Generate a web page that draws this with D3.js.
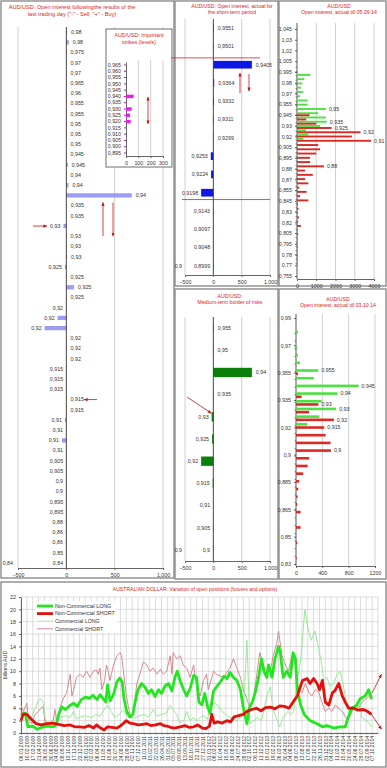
<!DOCTYPE html>
<html>
<head>
<meta charset="utf-8">
<script src="https://cdn.jsdelivr.net/npm/d3@7"></script>
<style>
  body { margin: 0; background: #fff; }
  svg text { font-family: "Liberation Sans", Arial, sans-serif; }
</style>
</head>
<body>
<div id="chart"></div>
<script>
// ---------- data ----------
// left panel: open interest after the last trading day
var leftLabels = ["0,98","0,98","0,975","0,97","0,97","0,965","0,96","0,955","0,955","0,95","0,95","0,95",
  "0,945","0,945","0,94","0,94","0,94","0,935","0,935","0,93","0,93","0,93","0,93","0,925","0,925","0,925",
  "0,925","0,92","0,92","0,92","0,92","0,92","0,92","0,915","0,915","0,915","0,915","0,915","0,91","0,91",
  "0,91","0,91","0,905","0,905","0,9","0,9","0,895","0,895","0,88","0,86","0,86","0,85","0,84"];
var leftValues = [8, 25, 3, 3, 3, 2, 4, 2, 3, 2, 3, 2,
  2, 15, 2, 22, 676, 4, 3, -30, 3, 3, 8, -15, 3, 80,
  3, -3, -90, -225, 2, 3, 3, -2, -2, -2, 3, 2, -15, -3,
  -45, -3, -2, -2, -3, -3, -2, -2, -5, -5, -5, -2, -2];

// inset: important strikes
var strikeLabels = ["0,965","0,960","0,955","0,950","0,945","0,940","0,935","0,930","0,925","0,920",
  "0,915","0,910","0,905","0,900","0,895"];
var strikeValues = [0, 0, 0, 0, 0, 62, 0, 46, 32, 38, 0, 0, 0, 0, 0];

// middle top: short-term period
var shortLabels = ["0,9551","0,9501","0,9405","0,9364","0,9332","0,9311","0,9299","0,9253","0,9224",
  "0,9198","0,9143","0,9097","0,9048","0,8999"];
var shortValues = [8, 6, 680, 15, 12, 6, 6, -45, -40, -215, -5, -3, -3, -4];

// middle bottom: medium-term border of risks
var riskLabels = ["0,955","0,95","0,94","0,935","0,93","0,925","0,92","0,915","0,91","0,905","0,9"];
var riskValues = [8, 5, 680, 5, -30, -22, -215, -12, -3, -3, -5];

// right top: open interest till 05.09.14
var oiSepTicks = ["1,045","1,03","1,02","1,005","0,995","0,98","0,97","0,955","0,945","0,93","0,92","0,905",
  "0,895","0,88","0,87","0,855","0,845","0,83","0,82","0,805","0,795","0,78","0,77","0,755"];
var oiSepPrices = [1.0, 0.995, 0.99, 0.985, 0.98, 0.975, 0.97, 0.965, 0.96, 0.955, 0.95, 0.945, 0.94, 0.935,
  0.93, 0.925, 0.92, 0.915, 0.91, 0.905, 0.9, 0.895, 0.89, 0.885, 0.88, 0.875, 0.87, 0.865, 0.86, 0.855,
  0.85, 0.845, 0.84, 0.835, 0.83, 0.825, 0.82, 0.815, 0.81, 0.805, 0.8, 0.795, 0.79, 0.785, 0.78, 0.775, 0.77];
var oiSepCalls = [50, 30, 700, 380, 280, 210, 330, 160, 550, 550, 1500, 1100, 1500, 1550,
  1200, 480, 590, 330, 0, 0, 0, 0, 0, 0, 0, 0, 0, 0, 0, 0,
  0, 0, 0, 0, 0, 0, 0, 0, 0, 0, 0, 0, 0, 0, 0, 0, 0];
var oiSepPuts = [0, 0, 0, 0, 0, 0, 0, 0, 0, 0, 0, 650, 480, 1000,
  1800, 3300, 2850, 3850, 1100, 1200, 1000, 680, 680, 1400, 420, 820, 420, 590, 120, 500,
  160, 590, 50, 80, 40, 100, 60, 200, 40, 60, 30, 20, 40, 20, 30, 20, 10];
var oiSepTags = [["call", 0.95, "0,95"], ["call", 0.935, "0,935"], ["put", 0.93, "0,925"],
  ["put", 0.925, "0,92"], ["put", 0.915, "0,91"], ["put", 0.885, "0,88"]];

// right bottom: open interest till 03.10.14
var oiOctTicks = ["0,99","0,97","0,955","0,935","0,92","0,9","0,885","0,865","0,85","0,83"];
var oiOctPrices = [0.98, 0.975, 0.97, 0.965, 0.96, 0.955, 0.95, 0.945, 0.94, 0.935, 0.93, 0.925, 0.92,
  0.915, 0.91, 0.905, 0.9, 0.895, 0.89, 0.885, 0.88, 0.875, 0.87, 0.865, 0.86, 0.855, 0.85, 0.845, 0.84, 0.835];
var oiOctCalls = [30, 0, 20, 30, 60, 340, 270, 950, 630, 390, 610, 355, 170,
  0, 0, 0, 0, 0, 0, 0, 0, 0, 0, 0, 0, 0, 0, 0, 0, 0];
var oiOctPuts = [0, 0, 0, 0, 0, 30, 0, 0, 85, 340, 200, 575, 430,
  450, 525, 530, 200, 177, 110, 50, 35, 25, 20, 70, 0, 70, 0, 20, 0, 10];
var oiOctTags = [["call", 0.955, "0,955"], ["call", 0.945, "0,945"], ["call", 0.94, "0,94"],
  ["put", 0.935, "0,93"], ["call", 0.93, "0,93"], ["put", 0.925, "0,92"], ["put", 0.92, "0,915"],
  ["put", 0.905, "0,9"]];

// bottom: COT positions, billions AUD; x is weeks from the first date label
var dateLabels = ["06.01.2009","10.02.2009","17.03.2009","21.04.2009","26.05.2009","30.06.2009",
  "04.08.2009","08.09.2009","13.10.2009","17.11.2009","22.12.2009","26.01.2010","02.03.2010",
  "06.04.2010","11.05.2010","15.06.2010","20.07.2010","24.08.2010","28.09.2010","02.11.2010",
  "07.12.2010","11.01.2011","15.02.2011","22.03.2011","26.04.2011","31.05.2011","05.07.2011",
  "09.08.2011","13.09.2011","18.10.2011","22.11.2011","27.12.2011","31.01.2012","06.03.2012",
  "10.04.2012","15.05.2012","19.06.2012","24.07.2012","28.08.2012","02.10.2012","06.11.2012",
  "11.12.2012","15.01.2013","19.02.2013","26.03.2013","30.04.2013","04.06.2013","09.07.2013",
  "13.08.2013","17.09.2013","22.10.2013","26.11.2013","31.12.2013","04.02.2014","11.03.2014",
  "15.04.2014","20.05.2014","24.06.2014","29.07.2014","02.09.2014","07.10.2014"];
var yTicks = [0, 2, 4, 6, 8, 10, 12, 14, 16, 18, 20, 22];

var ncLong = [[0,2.8],[3.5,3.2],[6,1.0],[10,1.1],[14,0.6],[17.5,0.9],[22.5,1.1],[27.5,1.0],[30,1.3],
  [32.5,3.2],[35,4.2],[38,3.8],[42,4.5],[45,4.8],[48,4.3],[51.5,5.4],[55,5.8],[58.5,5.6],[61.5,6.1],
  [65,5.4],[67.5,6.2],[70,5.6],[72.5,5.0],[74,7.8],[76,5.2],[79,6.2],[82,8.3],[84.5,8.9],[86.5,8.2],
  [88,5.5],[90.5,3.4],[93,2.6],[95.5,3.0],[97.5,5.0],[100,7.0],[103,8.0],[106,7.4],[109,6.4],
  [111.5,7.0],[114.5,5.9],[117.5,7.0],[120,6.4],[123,7.6],[126,8.0],[129,6.8],[131.5,9.0],
  [133.5,10.0],[136,8.4],[139,7.0],[141.5,6.0],[144.5,7.2],[147.5,9.3],[150,9.0],[152,5.0],
  [154.5,4.6],[157,6.4],[159.5,4.2],[161.5,3.2],[164.5,6.8],[167.5,7.6],[170.5,8.3],[173.5,9.2],
  [176,8.8],[178.5,9.8],[181.5,9.0],[184.5,8.5],[187.5,7.0],[190,4.0],[193,1.5],[195,4.0],
  [198,5.2],[200,6.5],[203,9.0],[205.5,12.0],[207.5,10.0],[210,9.0],[211.5,11.0],[214.5,9.0],
  [217,12.0],[220,14.0],[221.5,13.0],[224,9.0],[227,10.0],[230,9.0],[232.5,13.0],[234.5,12.0],
  [236,7.0],[239,4.5],[242,3.0],[247,2.0],[253,1.5],[257.5,1.0],[261.5,1.2],[267,0.8],[272.5,1.0],
  [277,1.0],[279.5,2.5],[282.5,4.0],[287,4.5],[289.5,5.5],[294,6.0],[297,7.0],[299.5,5.5]];
var ncShort = [[0,2.0],[2,3.1],[5,3.0],[7.5,2.5],[10,2.0],[13,1.5],[17,1.3],[22,1.5],[27,1.6],[32,1.4],
  [37,1.2],[42,1.3],[46,1.0],[50,1.0],[54,0.9],[58,1.2],[62,0.8],[64.5,1.3],[68,0.8],[71,0.5],
  [74,1.0],[78,0.9],[82,0.8],[86,1.3],[90,2.0],[93,1.6],[96,1.5],[100,1.3],[104,1.4],[107.5,1.5],
  [111,1.2],[115,1.3],[119,1.5],[122,1.2],[125,1.1],[128,0.9],[131,0.8],[136,1.0],[140,1.2],
  [144,0.9],[147.5,1.0],[151,1.3],[155,0.8],[158,0.7],[161,1.1],[163,3.0],[165,1.6],[168,1.8],
  [172,1.6],[176,2.0],[179,1.8],[182,2.6],[186,2.8],[190,3.0],[193,3.5],[197,3.8],[201,4.0],
  [205,3.6],[209,4.1],[213,4.2],[217,3.9],[221,4.4],[225,4.3],[229,4.0],[232.5,5.0],[236,6.0],
  [240.5,8.5],[244.5,8.8],[247,8.0],[250,8.8],[253,8.0],[255,7.0],[257.5,8.5],[260,5.0],[263,4.5],
  [266,6.5],[268,6.8],[271.5,8.0],[274.5,6.0],[277,5.0],[280,4.0],[284,4.0],[288,3.7],[292.5,3.8],
  [296,3.5],[299.5,3.0]];
var cLong = [[0,3.0],[2,3.5],[5,3.2],[7.5,2.0],[10,3.0],[13,4.5],[15,5.3],[17,5.5],[19,5.0],[20.5,2.5],
  [22,1.6],[26,1.8],[30,2.5],[34,2.6],[38,2.8],[42,2.5],[45,3.5],[47,2.3],[51,2.6],[55,2.8],[60,2.5],
  [64,3.0],[67.5,2.7],[70,3.5],[74,4.5],[77,3.5],[80,2.5],[84,3.0],[87.5,3.8],[90,3.0],[93,2.5],
  [97,2.4],[101,2.8],[105,3.0],[109,2.6],[113,3.8],[116,2.7],[120,3.0],[124,3.2],[127.5,4.5],
  [130,3.8],[133,3.0],[136,1.6],[139,2.0],[141.5,3.5],[144.5,2.0],[147.5,2.5],[150,2.0],[153,2.5],
  [156,2.8],[159,2.2],[161.5,3.5],[164.5,5.0],[168,4.5],[172,3.5],[175,3.0],[178.5,2.5],[184.5,2.0],
  [187.5,2.5],[190,3.5],[193,15.0],[195.5,1.5],[199,2.0],[202,2.5],[205.5,2.0],[210,6.0],[213,7.5],
  [215,4.0],[218,2.5],[221,1.0],[224,2.5],[228,3.5],[231,3.0],[233,3.5],[235.5,8.0],[239,12.0],
  [242.5,20.0],[245,17.0],[248,15.0],[251,16.5],[254,14.0],[257,11.0],[258.5,8.5],[261.5,9.0],
  [264,7.5],[267,8.0],[270,9.5],[272.5,10.0],[275.5,7.5],[278.5,4.5],[281,3.0],[284,4.0],[287,5.0],
  [290,5.0],[291,2.5],[295.5,2.0],[298,1.5],[300,1.0]];
var cShort = [[0,4.5],[2,3.5],[5,4.8],[6.5,2.0],[9,1.5],[12,3.0],[15,3.5],[17,4.0],[19,4.3],[20.5,1.8],
  [24,1.5],[27,1.5],[29,3.8],[30.5,2.0],[32,2.5],[33,4.0],[36,5.5],[39,6.5],[42,9.5],[43.5,6.0],
  [45,7.0],[47.5,9.0],[50.5,9.5],[53,9.0],[56,10.0],[59,9.0],[62,10.0],[64.5,10.2],[66,9.5],
  [67.5,10.5],[69,7.0],[71.5,8.5],[73,11.0],[74.5,10.0],[76,8.5],[79,11.0],[82,12.5],[84.5,13.0],
  [86,12.5],[87.5,10.0],[90,6.0],[93,3.0],[94.5,2.5],[96,3.5],[99,8.0],[101.5,9.5],[104.5,11.5],
  [107.5,11.0],[110,10.0],[113,10.5],[116,9.5],[119,10.3],[121.5,9.5],[124.5,10.0],[127.5,12.5],
  [129,9.5],[130,13.0],[133,12.0],[136,12.5],[138.5,11.0],[141.5,10.5],[144.5,9.0],[147.5,11.0],
  [150,7.5],[153,6.0],[156,8.5],[158.5,9.5],[160,7.0],[164.5,10.0],[167,9.5],[173,9.0],[178.5,10.5],
  [181.5,12.0],[184.5,10.5],[187.5,9.0],[190,7.0],[193,5.5],[195.5,4.0],[198.5,5.5],[201.5,9.5],
  [204,13.0],[207,11.0],[210,10.0],[213,10.0],[215.5,12.5],[218.5,14.5],[220,16.5],[223,12.5],
  [226,11.0],[228.5,10.0],[231.5,12.5],[234.5,11.0],[237,7.0],[240,6.5],[243,8.0],[246,6.5],
  [248.5,6.0],[251.5,7.0],[254.5,6.5],[257,5.0],[260,3.5],[263,4.0],[265.5,3.5],[268.5,4.5],
  [271.5,4.0],[274.5,3.5],[277.5,2.5],[280,2.3],[283,3.5],[286,4.5],[288.5,4.0],[291.5,5.0],
  [294.5,5.5],[297,6.0],[300,6.5]];

var seriesNames = ["Non-Commercial LONG", "Non-Commercial SHORT", "Commercial LONG", "Commercial SHORT"];

// ---------- page ----------
var svg = d3.select("#chart").append("svg")
  .attr("width", 387)
  .attr("height", 768);

var RED = "#e0201c";
var FONT = 5.3;

// arrow head used by the red annotations
svg.append("defs").append("marker")
  .attr("id", "ah")
  .attr("viewBox", "0 0 10 10")
  .attr("refX", 9)
  .attr("refY", 5)
  .attr("markerWidth", 5)
  .attr("markerHeight", 5)
  .attr("orient", "auto")
  .append("path")
  .attr("d", "M0,1L10,5L0,9z")
  .attr("fill", "#c0161a");

// panel frames
var frames = [[1, 1, 173, 577], [175, 1, 103, 285], [175, 289, 103, 290],
  [279, 1, 107, 285], [279, 289, 107, 290], [1, 582, 385, 185]];
svg.selectAll(".frame")
  .data(frames)
  .enter()
  .append("rect")
  .attr("class", "frame")
  .attr("x", d => d[0])
  .attr("y", d => d[1])
  .attr("width", d => d[2])
  .attr("height", d => d[3])
  .attr("fill", "#fff")
  .attr("stroke", "#8c8c8c")
  .attr("stroke-width", 1.4);

function title(g, lines, cx, y0, size, lh) {
  g.append("text")
    .attr("fill", RED)
    .attr("font-size", size)
    .attr("text-anchor", "middle")
    .selectAll("tspan")
    .data(lines)
    .enter()
    .append("tspan")
    .attr("x", cx)
    .attr("y", (d, i) => y0 + i * lh)
    .text(d => d);
}

function arrow(g, x1, y1, x2, y2) {
  g.append("line")
    .attr("x1", x1).attr("y1", y1)
    .attr("x2", x2).attr("y2", y2)
    .attr("stroke", "#c0161a")
    .attr("stroke-width", 0.8)
    .attr("marker-end", "url(#ah)");
}

function styleAxis(a) {
  a.attr("font-family", null).attr("font-size", FONT);
  a.selectAll("text").attr("fill", "#333");
  a.selectAll("path, line").attr("stroke", "#666");
}

// horizontal bar chart with category labels next to each bar
function barPanel(g, labels, values, color, xr, yr, catX, catText) {
  var x = d3.scaleLinear().domain([-500, 1000]).range(xr);
  var y = d3.scaleBand().domain(d3.range(labels.length)).range(yr).paddingInner(0.58).paddingOuter(0.29);

  g.selectAll(".grid")
    .data([-500, 500, 1000])
    .enter()
    .append("line")
    .attr("x1", d => x(d)).attr("x2", d => x(d))
    .attr("y1", yr[0]).attr("y2", yr[1])
    .attr("stroke", "#c4c4c4")
    .attr("stroke-width", 0.8);

  var xAxis = g.append("g")
    .attr("transform", `translate(0, ${yr[1]})`)
    .call(d3.axisBottom(x).tickValues([-500, 0, 500, 1000]).tickSize(2).tickSizeOuter(0));
  styleAxis(xAxis);

  g.selectAll(".bar")
    .data(values)
    .enter()
    .append("rect")
    .attr("x", d => x(Math.min(0, d)))
    .attr("y", (d, i) => y(i))
    .attr("width", d => Math.abs(x(d) - x(0)))
    .attr("height", y.bandwidth())
    .attr("fill", color);

  // zero line
  g.append("line")
    .attr("x1", x(0)).attr("x2", x(0))
    .attr("y1", yr[0]).attr("y2", yr[1])
    .attr("stroke", "#333")
    .attr("stroke-width", 0.9);

  g.selectAll(".lbl")
    .data(values)
    .enter()
    .append("text")
    .attr("x", d => d >= 0 ? x(d) + 4 : x(d) - 3)
    .attr("y", (d, i) => y(i) + y.bandwidth() / 2)
    .attr("dy", "0.35em")
    .attr("text-anchor", d => d >= 0 ? "start" : "end")
    .attr("font-size", FONT)
    .attr("fill", "#333")
    .text((d, i) => labels[i]);

  // single category tick at the lowest row
  var last = labels.length - 1;
  g.append("text")
    .attr("x", catX)
    .attr("y", y(last) + y.bandwidth() / 2)
    .attr("dy", "0.35em")
    .attr("text-anchor", "end")
    .attr("font-size", FONT)
    .attr("fill", "#333")
    .text(catText);

  return {x: x, y: y};
}

// strikes chart: green calls above red puts for each price
function strikePanel(g, o) {
  var x = d3.scaleLinear().domain([0, o.xMax]).range(o.xr);
  var y = d3.scaleLinear().domain(o.yDomain).range(o.yr);
  var ticks = d3.scalePoint().domain(o.tickLabels).range(o.yr);

  g.selectAll(".grid")
    .data(o.xTicks.slice(1))
    .enter()
    .append("line")
    .attr("x1", d => x(d)).attr("x2", d => x(d))
    .attr("y1", o.top).attr("y2", o.bottom)
    .attr("stroke", "#c4c4c4")
    .attr("stroke-width", 0.8);

  var xAxis = g.append("g")
    .attr("transform", `translate(0, ${o.bottom})`)
    .call(d3.axisBottom(x).tickValues(o.xTicks).tickSize(2).tickSizeOuter(0).tickFormat(d3.format("d")));
  styleAxis(xAxis);

  var yAxis = g.append("g")
    .attr("transform", `translate(${o.xr[0]}, 0)`)
    .call(d3.axisLeft(ticks).tickSize(2));
  yAxis.select(".domain").remove();
  styleAxis(yAxis);

  g.append("line")
    .attr("x1", o.xr[0]).attr("x2", o.xr[0])
    .attr("y1", o.top).attr("y2", o.bottom)
    .attr("stroke", "#444")
    .attr("stroke-width", 0.9);

  // small marks for every strike
  g.selectAll(".minor")
    .data(o.prices)
    .enter()
    .append("line")
    .attr("x1", o.xr[0] - 1.5).attr("x2", o.xr[0])
    .attr("y1", d => y(d)).attr("y2", d => y(d))
    .attr("stroke", "#444")
    .attr("stroke-width", 0.6);

  g.selectAll(".call")
    .data(o.calls)
    .enter()
    .append("rect")
    .attr("x", x(0))
    .attr("y", (d, i) => y(o.prices[i]) - o.h)
    .attr("width", d => x(d) - x(0))
    .attr("height", o.h)
    .attr("fill", "#4ee044");

  g.selectAll(".put")
    .data(o.puts)
    .enter()
    .append("rect")
    .attr("x", x(0))
    .attr("y", (d, i) => y(o.prices[i]) + o.gap)
    .attr("width", d => x(d) - x(0))
    .attr("height", o.h)
    .attr("fill", "#d92a24");

  g.selectAll(".tag")
    .data(o.tags)
    .enter()
    .append("text")
    .attr("x", d => {
      var i = o.prices.indexOf(d[1]);
      return x(d[0] === "call" ? o.calls[i] : o.puts[i]) + 3;
    })
    .attr("y", d => d[0] === "call" ? y(d[1]) - o.h / 2 : y(d[1]) + o.gap + o.h / 2)
    .attr("dy", "0.35em")
    .attr("font-size", FONT)
    .attr("fill", "#333")
    .text(d => d[2]);
}

// ---------- left panel ----------
var left = svg.append("g");
title(left, ["AUD/USD: Open interest followingthe results of the", "last trading day (\"-\" - Sell, \"+\" - Buy)"],
  72, 9, 5.6, 7);
var lp = barPanel(left, leftLabels, leftValues, "#9c9cf2", [18, 163], [27, 568], 13, "0,84");

// annotations on the left panel
arrow(left, 33, lp.y(19) + lp.y.bandwidth() / 2, 47, lp.y(19) + lp.y.bandwidth() / 2);
arrow(left, 97, lp.y(36) + lp.y.bandwidth() / 2, 84, lp.y(36) + lp.y.bandwidth() / 2);
arrow(left, 103, lp.y(20) + 2, 103, lp.y(17) - 1);
arrow(left, 113, lp.y(17) - 1, 113, lp.y(20) + 2);

// inset: important strikes
var inset = svg.append("g");
inset.append("rect")
  .attr("x", 106).attr("y", 29)
  .attr("width", 66).attr("height", 138)
  .attr("fill", "#fff")
  .attr("stroke", "#6e6e6e")
  .attr("stroke-width", 1);
title(inset, ["AUD/USD:  Important", "strikes (levels)"], 139, 37, 5.3, 6.5);

var ix = d3.scaleLinear().domain([0, 300]).range([126, 163]);
var iy = d3.scaleBand().domain(strikeLabels).range([62, 156]).paddingInner(0.45).paddingOuter(0.2);

inset.selectAll(".grid")
  .data([100, 200, 300])
  .enter()
  .append("line")
  .attr("x1", d => ix(d)).attr("x2", d => ix(d))
  .attr("y1", 60).attr("y2", 156)
  .attr("stroke", "#c4c4c4")
  .attr("stroke-width", 0.8);

var ixAxis = inset.append("g")
  .attr("transform", "translate(0, 156)")
  .call(d3.axisBottom(ix).tickValues([0, 100, 200, 300]).tickSize(2).tickSizeOuter(0));
styleAxis(ixAxis);

var iyAxis = inset.append("g")
  .attr("transform", "translate(126, 0)")
  .call(d3.axisLeft(iy).tickSize(2).tickSizeOuter(0));
styleAxis(iyAxis);
iyAxis.selectAll(".tick line").attr("stroke", "#b020b0");

inset.selectAll(".bar")
  .data(strikeValues)
  .enter()
  .append("rect")
  .attr("x", ix(0))
  .attr("y", (d, i) => iy(strikeLabels[i]))
  .attr("width", d => ix(d) - ix(0))
  .attr("height", iy.bandwidth())
  .attr("fill", "#e81ee8");

arrow(inset, 148, 110, 148, 97);
arrow(inset, 148, 110, 148, 124);

// ---------- middle top ----------
var mt = svg.append("g");
title(mt, ["AUD/USD: Open interest, actual for", "the short-term period"], 232, 8, 5.2, 6);
var mtp = barPanel(mt, shortLabels, shortValues, "#0b18e6", [185, 270], [19, 275], 182, "0,9");
mt.append("line")
  .attr("x1", 171).attr("x2", 260)
  .attr("y1", mtp.y(2) - 3).attr("y2", mtp.y(2) - 3)
  .attr("stroke", RED).attr("stroke-width", 0.8);
mt.append("line")
  .attr("x1", 182).attr("x2", 270)
  .attr("y1", mtp.y(9) + mtp.y.bandwidth() + 3).attr("y2", mtp.y(9) + mtp.y.bandwidth() + 3)
  .attr("stroke", RED).attr("stroke-width", 0.8);
arrow(mt, 240, 93, 240, 73);
arrow(mt, 249, 74, 249, 91);

// ---------- middle bottom ----------
var mb = svg.append("g");
title(mb, ["AUD/USD:", "Medium-term border of risks"], 230, 298, 5.2, 6);
var mbp = barPanel(mb, riskLabels, riskValues, "#0a800a", [185, 270], [317, 561], 182, "0,9");
arrow(mb, 187, 397, mbp.x(0) - 2, mbp.y(4) + 1);

// ---------- right top ----------
var rt = svg.append("g");
title(rt, ["AUD/USD", "Open interest, actual till 05.09.14"], 339, 8, 5.2, 6);
strikePanel(rt, {
  xMax: 4000, xTicks: [0, 1000, 2000, 3000, 4000], xr: [297, 374],
  yDomain: [1.045, 0.755], yr: [29, 276], top: 23, bottom: 279,
  tickLabels: oiSepTicks, prices: oiSepPrices, calls: oiSepCalls, puts: oiSepPuts, tags: oiSepTags,
  h: 1.9, gap: 0.1
});

// ---------- right bottom ----------
var rb = svg.append("g");
title(rb, ["AUD/USD", "Open interest, actual till 03.10.14"], 338, 301, 5.2, 6);
strikePanel(rb, {
  xMax: 1200, xTicks: [0, 400, 800, 1200], xr: [296, 375],
  yDomain: [0.99, 0.83], yr: [318, 564], top: 314, bottom: 566,
  tickLabels: oiOctTicks, prices: oiOctPrices, calls: oiOctCalls, puts: oiOctPuts, tags: oiOctTags,
  h: 2.6, gap: 0.6
});

// ---------- bottom: variation of open positions ----------
var bt = svg.append("g");
title(bt, ["AUSTRALIAN DOLLAR: Variation of open positions (futures and options)"], 195, 591, 5.1, 6);

var tx = d3.scaleLinear().domain([0, 305]).range([21, 378]);
var ty = d3.scaleLinear().domain([0, 22]).range([733, 597]);
var labelWeeks = dateLabels.map((d, i) => i * 5);

bt.selectAll(".hgrid")
  .data(yTicks)
  .enter()
  .append("line")
  .attr("x1", tx(0)).attr("x2", tx(305))
  .attr("y1", d => ty(d)).attr("y2", d => ty(d))
  .attr("stroke", "#cfcfcf")
  .attr("stroke-width", 0.7);

bt.selectAll(".vgrid")
  .data(labelWeeks.concat([305]))
  .enter()
  .append("line")
  .attr("x1", d => tx(d)).attr("x2", d => tx(d))
  .attr("y1", ty(22)).attr("y2", ty(0))
  .attr("stroke", "#cfcfcf")
  .attr("stroke-width", 0.7);

var tyAxis = bt.append("g")
  .attr("transform", `translate(${tx(0)}, 0)`)
  .call(d3.axisLeft(ty).tickValues(yTicks).tickSize(2).tickSizeOuter(0));
styleAxis(tyAxis);

var txAxis = bt.append("g")
  .attr("transform", `translate(0, ${ty(0)})`)
  .call(d3.axisBottom(tx).tickValues(labelWeeks).tickSize(1.5).tickSizeOuter(0).tickFormat((d, i) => dateLabels[i]));
styleAxis(txAxis);
txAxis.selectAll("text")
  .attr("font-size", 5)
  .attr("transform", "rotate(-90)")
  .attr("text-anchor", "end")
  .attr("x", -3)
  .attr("y", 0)
  .attr("dy", "0.35em");

bt.append("text")
  .attr("transform", `translate(7, ${ty(11)}) rotate(-90)`)
  .attr("text-anchor", "middle")
  .attr("font-size", 5.3)
  .attr("fill", "#333")
  .text("billions AUD");

var line = d3.line()
  .x(d => tx(d[0]))
  .y(d => ty(d[1]));

var seriesData = [cShort, cLong, ncLong, ncShort];
var seriesColor = ["#cf7f82", "#8ce88a", "#22e61e", "#e3100c"];
var seriesWidth = [0.9, 0.9, 2.8, 2.8];

bt.selectAll(".series")
  .data(seriesData)
  .enter()
  .append("path")
  .attr("d", d => line(d))
  .attr("fill", "none")
  .attr("stroke", (d, i) => seriesColor[i])
  .attr("stroke-width", (d, i) => seriesWidth[i])
  .attr("stroke-linejoin", "round");

// trend arrows at the end
arrow(bt, tx(300), ty(6.5), tx(308), ty(9.5));
arrow(bt, tx(299.5), ty(3), tx(308), ty(0.6));

// legend
var legend = bt.append("g");
legend.append("rect")
  .attr("x", 35).attr("y", 601)
  .attr("width", 82).attr("height", 32)
  .attr("fill", "#fff");
var legendColor = ["#22e61e", "#e3100c", "#8ce88a", "#cf7f82"];
var legendWidth = [2.8, 2.8, 0.9, 0.9];
var item = legend.selectAll(".item")
  .data(seriesNames)
  .enter()
  .append("g")
  .attr("transform", (d, i) => `translate(37, ${606 + i * 7.6})`);
item.append("line")
  .attr("x1", 0).attr("x2", 16)
  .attr("stroke", (d, i) => legendColor[i])
  .attr("stroke-width", (d, i) => legendWidth[i]);
item.append("text")
  .attr("x", 18)
  .attr("dy", "0.35em")
  .attr("font-size", 5.3)
  .attr("fill", "#333")
  .text(d => d);
</script>
</body>
</html>
